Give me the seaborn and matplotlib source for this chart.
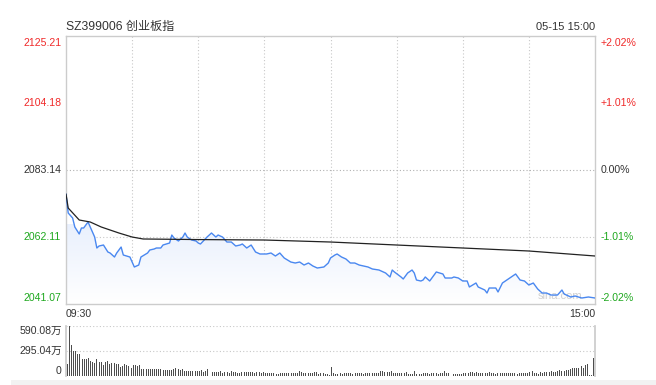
import numpy as np
import pandas as pd
import matplotlib
matplotlib.use('Agg')
import matplotlib.pyplot as plt
import seaborn as sns

# 数据
base_price = 2083.14
price_ticks = [2041.07, 2062.11, 2083.14, 2104.18, 2125.21]
pct_labels = ['-2.02%', '-1.01%', '0.00%', '+1.01%', '+2.02%']

price_min = [0, 1, 3, 4, 6, 7, 8, 10, 11, 13, 14, 15, 17, 19, 20, 22, 23, 25, 26, 29,
             30, 31, 33, 34, 37, 38, 40, 41, 43, 44, 47, 48, 49, 51, 53, 54, 55, 57, 59, 60,
             61, 64, 66, 68, 69, 71, 73, 75, 77, 79, 80, 82, 84, 86, 88, 91, 93, 95, 97, 99,
             102, 104, 106, 108, 110, 112, 114, 117, 119, 120, 122, 123, 125, 127, 129, 131, 133, 135, 137, 139,
             142, 145, 147, 148, 149, 152, 153, 155, 157, 158, 159, 161, 162, 163, 165, 167, 168, 171, 172, 175,
             176, 178, 180, 182, 183, 186, 187, 190, 191, 192, 195, 196, 198, 200, 202, 204, 206, 208, 210, 212,
             214, 216, 218, 220, 223, 225, 226, 229, 231, 234, 237, 240]
price_val = [2075.60, 2069.64, 2068.07, 2065.24, 2063.05, 2064.93, 2064.93, 2066.81, 2065.24, 2062.10,
             2058.65, 2059.28, 2059.59, 2057.39, 2057.08, 2055.82, 2057.08, 2058.96, 2056.45, 2055.82,
             2054.25, 2052.69, 2053.31, 2055.82, 2057.08, 2058.02, 2058.34, 2058.65, 2058.65, 2059.59,
             2060.22, 2062.73, 2061.79, 2060.85, 2062.10, 2063.36, 2062.10, 2061.16, 2060.85, 2060.22,
             2059.91, 2062.10, 2063.36, 2062.10, 2062.73, 2062.10, 2060.53, 2060.53, 2059.28, 2059.59,
             2059.91, 2058.65, 2059.59, 2057.39, 2056.77, 2056.77, 2057.08, 2056.14, 2057.08, 2055.51,
             2054.25, 2053.94, 2054.25, 2053.31, 2053.94, 2053.00, 2052.37, 2052.69, 2053.94, 2055.51,
             2056.45, 2056.77, 2055.82, 2055.20, 2053.94, 2053.94, 2053.31, 2053.00, 2052.69, 2052.06,
             2051.74, 2050.80, 2049.55, 2051.74, 2051.12, 2049.55, 2048.92, 2050.80, 2051.74, 2050.80,
             2048.60, 2048.29, 2048.60, 2049.55, 2048.29, 2050.17, 2051.12, 2050.49, 2049.23, 2049.23,
             2049.55, 2049.23, 2048.29, 2048.29, 2046.41, 2047.66, 2046.41, 2045.46, 2044.52, 2046.09,
             2046.09, 2044.84, 2047.66, 2048.60, 2049.55, 2050.49, 2048.60, 2048.29, 2047.03, 2047.66,
             2045.78, 2044.52, 2044.52, 2043.89, 2043.89, 2045.46, 2044.21, 2043.27, 2043.58, 2042.95,
             2043.27, 2042.95]

avg_min = [0, 1, 6, 11, 16, 24, 30, 35, 60, 90, 120, 150, 180, 210, 240]
avg_val = [2075.60, 2071.21, 2067.44, 2066.81, 2065.24, 2063.36, 2062.10, 2061.48, 2061.30,
           2061.16, 2060.53, 2059.59, 2058.65, 2057.71, 2056.14]

# 成交量 (万)
volume = [138, 590, 362, 295, 295, 264, 264, 205, 197, 205,
          216, 177, 169, 157, 205, 169, 169, 126, 169, 181,
          138, 157, 150, 138, 146, 106, 118, 146, 126, 118,
          98, 134, 126, 118, 126, 87, 79, 79, 79, 79,
          87, 87, 79, 79, 87, 67, 67, 67, 67, 67,
          79, 90, 79, 67, 79, 55, 55, 55, 55, 55,
          55, 55, 55, 67, 47, 59, 79, 63, 51, 47,
          47, 47, 55, 31, 47, 47, 35, 55, 47, 47,
          39, 39, 43, 43, 43, 43, 43, 43, 39, 43,
          43, 31, 43, 31, 31, 31, 31, 31, 28, 28,
          31, 39, 39, 39, 39, 39, 31, 31, 31, 59,
          43, 39, 31, 39, 31, 31, 47, 47, 28, 35,
          35, 28, 20,
          8, 110, 31, 28, 28, 39, 28, 31, 39,
          39, 31, 28, 31, 31, 39, 39, 28, 39, 39,
          31, 39, 39, 31, 39, 59, 59, 47, 47, 51,
          59, 39, 39, 39, 39, 39, 39, 51, 28, 28,
          28, 59, 28, 28, 28, 31, 31, 39, 28, 31,
          39, 31, 28, 31, 31, 59, 39, 31, 20, 28,
          28, 28, 28, 28, 39, 39, 39, 47, 47, 39,
          47, 31, 31, 31, 39, 39, 47, 31, 31, 28,
          31, 31, 39, 31, 39, 39, 39, 31, 39, 28,
          39, 39, 39, 31, 31, 47, 59, 31, 31, 28,
          47, 39, 47, 47, 47, 59, 51, 51, 59, 71,
          59, 59, 67, 71, 79, 98, 90, 90, 98, 118,
          98, 130, 146, 8, 8, 216]
vol_ticks = [0, 295.04, 590.08]
vol_labels = ['0', '295.04万', '590.08万']

sns.set_theme(style='white')
plt.rcParams['font.family'] = ['Liberation Sans', 'Noto Sans CJK SC']

W, H = 656, 385
fig = plt.figure(figsize=(W / 100, H / 100), dpi=100)

red = '#f02a2a'
green = '#1fa81f'
dark = '#333333'
grid_c = '#c8c8c8'

# 主图
ax = fig.add_axes([66 / W, 1 - 304 / H, 529 / W, 268 / H])
df = pd.DataFrame({'min': price_min, 'price': price_val})
dfa = pd.DataFrame({'min': avg_min, 'price': avg_val})

# 渐变填充
poly = ax.fill_between(df['min'], df['price'], price_ticks[0], color='none', lw=0)
grad = np.linspace(0, 1, 256).reshape(-1, 1)
cmap = matplotlib.colors.LinearSegmentedColormap.from_list('g', ['#ffffff', '#e9f0fd'])
im = ax.imshow(grad, extent=[0, 240, price_ticks[0], 2066], origin='lower', aspect='auto',
               cmap=cmap, zorder=1)
im.set_clip_path(poly.get_paths()[0], transform=ax.transData)

sns.lineplot(data=df, x='min', y='price', ax=ax, color='#4a88f0', lw=1.0, zorder=3)
sns.lineplot(data=dfa, x='min', y='price', ax=ax, color='#222222', lw=0.9, zorder=4)

ax.set_xlim(0, 240)
ax.set_ylim(price_ticks[0], price_ticks[-1])
for t in range(30, 240, 30):
    ax.axvline(t, color=grid_c, ls=(0, (1, 2)), lw=0.8, zorder=0)
for p in price_ticks[1:3]:
    ax.axhline(p, color='#b0b0b0' if p == base_price else grid_c, ls=(0, (1, 2)), lw=0.8, zorder=0)
ax.set_xticks([])
ax.set_yticks([])
ax.set_xlabel('')
ax.set_ylabel('')
for s in ax.spines.values():
    s.set_color('#cccccc')
    s.set_linewidth(1)

for i, (p, lab) in enumerate(zip(price_ticks, pct_labels)):
    c = green if p < base_price else (red if p > base_price else dark)
    va = 'bottom' if i == 0 else ('top' if i == 4 else 'center')
    yoff = 0.4 if i == 0 else (-0.6 if i == 4 else 0)
    ax.text(-0.009, p + yoff, f'{p:.2f}', transform=ax.get_yaxis_transform(), ha='right', va=va,
            color=c, fontsize=7.6)
    ax.text(1.01, p + yoff, lab, transform=ax.get_yaxis_transform(), ha='left', va=va,
            color=c, fontsize=7.6)

ax.text(0, -0.02, '09:30', transform=ax.transAxes, ha='left', va='top', color=dark, fontsize=7.6)
ax.text(1, -0.02, '15:00', transform=ax.transAxes, ha='right', va='top', color=dark, fontsize=7.6)
ax.text(0.977, 0.012, 'sina.com', transform=ax.transAxes, ha='right', va='bottom',
        color='#d0d0d0', fontsize=8, zorder=2)

fig.text(66 / W, 1 - 27 / H, 'SZ399006 创业板指', ha='left', va='center', color=dark, fontsize=8.7)
fig.text(595 / W, 1 - 27 / H, '05-15 15:00', ha='right', va='center', color=dark, fontsize=8)

# 成交量图
axv = fig.add_axes([66 / W, 1 - 376 / H, 529 / W, 50 / H])
xs = np.linspace(0.5, 239.5, len(volume))
axv.bar(xs, volume, width=0.45, color='#4d4d4d', lw=0)
axv.set_xlim(0, 240)
axv.set_ylim(0, vol_ticks[-1])
for v in vol_ticks[1:]:
    axv.axhline(v, color=grid_c, ls=(0, (1, 2)), lw=0.8, zorder=0)
axv.set_xticks([])
axv.set_yticks([])
for k, s in axv.spines.items():
    s.set_color('#cccccc')
    s.set_visible(k in ('left', 'right'))
for i, (v, lab) in enumerate(zip(vol_ticks, vol_labels)):
    va = 'bottom' if i == 0 else ('top' if i == 2 else 'center')
    axv.text(-0.008, v, lab, transform=axv.get_yaxis_transform(), ha='right', va=va,
             color=dark, fontsize=7.6)

# 底部灰条
band = fig.add_axes([11 / W, 0, 1 - 11 / W, 5 / H])
band.set_facecolor('#f2f2f2')
band.set_xticks([])
band.set_yticks([])
for s in band.spines.values():
    s.set_visible(False)

fig.savefig('out.png', dpi=100)
